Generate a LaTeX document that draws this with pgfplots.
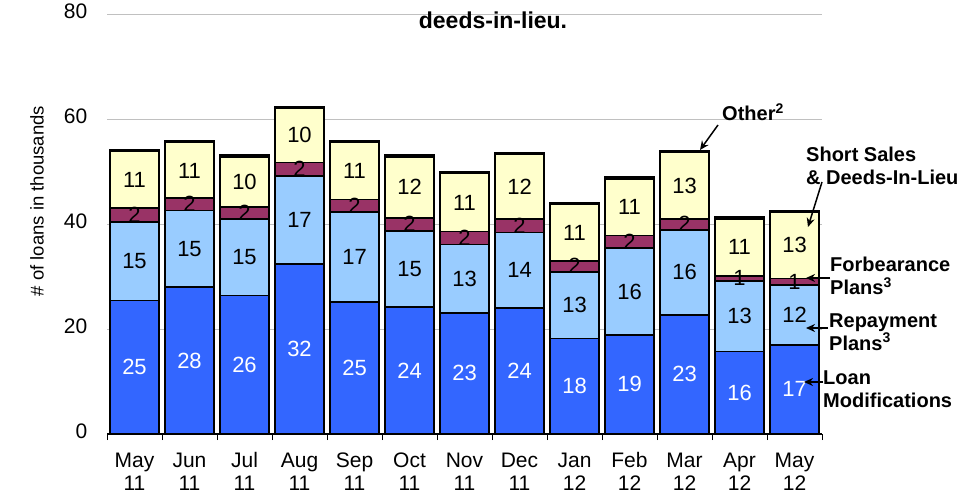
\documentclass[border=0pt]{standalone}
\usepackage{pgfplots}
\pgfplotsset{compat=1.18}
\usepackage{pgfplotstable}
\usepackage{fontspec}
\setmainfont{Liberation Sans}
\usetikzlibrary{arrows.meta}
\definecolor{lmblue}{HTML}{3366FF}
\definecolor{repblue}{HTML}{99CCFF}
\definecolor{forb}{HTML}{993366}
\definecolor{ssyel}{HTML}{FFFFCC}
\definecolor{gridgray}{HTML}{C0C0C0}
\pgfplotstableread{
x lm rep forb ss oth llm lrep lforb lss
0 25.4 15.0 2.6 10.9 0.3 25 15 2 11
1 28.0 14.6 2.3 10.6 0.3 28 15 2 11
2 26.4 14.6 2.2 9.6 0.3 26 15 2 10
3 32.4 16.8 2.5 10.4 0.3 32 17 2 10
4 25.1 17.2 2.4 10.8 0.3 25 17 2 11
5 24.2 14.5 2.5 11.6 0.3 24 15 2 12
6 23.1 13.0 2.5 11.0 0.3 23 13 2 11
7 24.0 14.4 2.5 12.4 0.3 24 14 2 12
8 18.2 12.7 2.1 10.7 0.3 18 13 2 11
9 18.9 16.5 2.4 10.8 0.3 19 16 2 11
10 22.7 16.2 2.1 12.6 0.3 23 16 2 13
11 15.7 13.5 0.9 10.9 0.3 16 13 1 11
12 17.0 11.4 1.2 12.7 0.3 17 12 1 13
}\data
\begin{document}
\begin{tikzpicture}[x=1pt,y=1pt]
\useasboundingbox (0,0) rectangle (978,496);
\pgfplotsset{common/.style={scale only axis, width=715pt, height=420pt,
  at={(107pt,62pt)}, anchor=south west, xmin=-0.5, xmax=12.5, ymin=0, ymax=80}}
\begin{axis}[common, ybar stacked, bar width=0.9,
  axis lines=left, axis line style={-},
  y axis line style={draw=none},
  x axis line style={line width=1.5pt},
  ytick={0,20,40,60,80}, ymajorgrids, grid style={gridgray, line width=0.8pt},
  y tick style={draw=none},
  /pgf/number format/assume math mode=true,
  yticklabel style={font=\fontsize{21}{24}\selectfont, xshift=-12pt},
  xtick={0,...,12},
  typeset ticklabels with strut,
  xticklabels={May\\11,Jun\\11,Jul\\11,Aug\\11,Sep\\11,Oct\\11,Nov\\11,Dec\\11,Jan\\12,Feb\\12,Mar\\12,Apr\\12,May\\12},
  xticklabel style={align=center, font=\fontsize{21}{23}\selectfont, yshift=-10pt},
  major x tick style={draw=none},
  minor xtick={-0.5,0.5,...,12.5},
  minor x tick style={black, line width=0.8pt},
  minor tick length=6pt, tick align=outside,
  every axis plot/.append style={draw=black, line width=1.6pt}]
\addplot[fill=lmblue] table[x=x,y=lm]{\data};
\addplot[fill=repblue] table[x=x,y=rep]{\data};
\addplot[fill=forb] table[x=x,y=forb]{\data};
\addplot[fill=ssyel] table[x=x,y=ss]{\data};
\addplot[fill=black] table[x=x,y=oth]{\data};
\end{axis}
\begin{axis}[common, hide axis,
  nodes near coords, point meta=explicit symbolic,
  nodes near coords style={anchor=center, font=\fontsize{22}{24}\selectfont}]
\addplot[only marks, mark=*, mark size=0pt, mark options={draw=none,fill=none},
  nodes near coords style={text=white}] table[x=x, y expr=\thisrow{lm}/2, meta=llm]{\data};
\addplot[only marks, mark=*, mark size=0pt, mark options={draw=none,fill=none}]
  table[x=x, y expr=\thisrow{lm}+\thisrow{rep}/2, meta=lrep]{\data};
\addplot[only marks, mark=*, mark size=0pt, mark options={draw=none,fill=none}]
  table[x=x, y expr=\thisrow{lm}+\thisrow{rep}+\thisrow{forb}/2, meta=lforb]{\data};
\addplot[only marks, mark=*, mark size=0pt, mark options={draw=none,fill=none}]
  table[x=x, y expr=\thisrow{lm}+\thisrow{rep}+\thisrow{forb}+\thisrow{ss}/2, meta=lss]{\data};
\end{axis}
\node[rotate=90, font=\fontsize{18.5}{20}\selectfont] at (37,295) {\# of loans in thousands};
\node[font=\fontsize{23}{26}\selectfont\bfseries] at (493,476) {deeds-in-lieu.};
\begin{scope}[font=\fontsize{20}{23}\selectfont\bfseries, every node/.style={anchor=west, align=left, inner sep=0pt}]
\node at (722,384) {Other\textsuperscript{2}};
\node at (806,330) {Short Sales\\\& Deeds-In-Lieu};
\node at (830,220) {Forbearance\\Plans\textsuperscript{3}};
\node at (829,164) {Repayment\\Plans\textsuperscript{3}};
\node at (823,107) {Loan\\Modifications};
\end{scope}
\begin{scope}[line width=1.5pt, -{Stealth[length=9pt,width=8pt]}]
\draw (718,371) -- (700,346);
\draw (822,314) -- (808,269);
\draw (830,218) -- (806,218);
\draw (828,168) -- (806,168);
\draw (823,114) -- (804,114);
\end{scope}
\end{tikzpicture}
\end{document}
